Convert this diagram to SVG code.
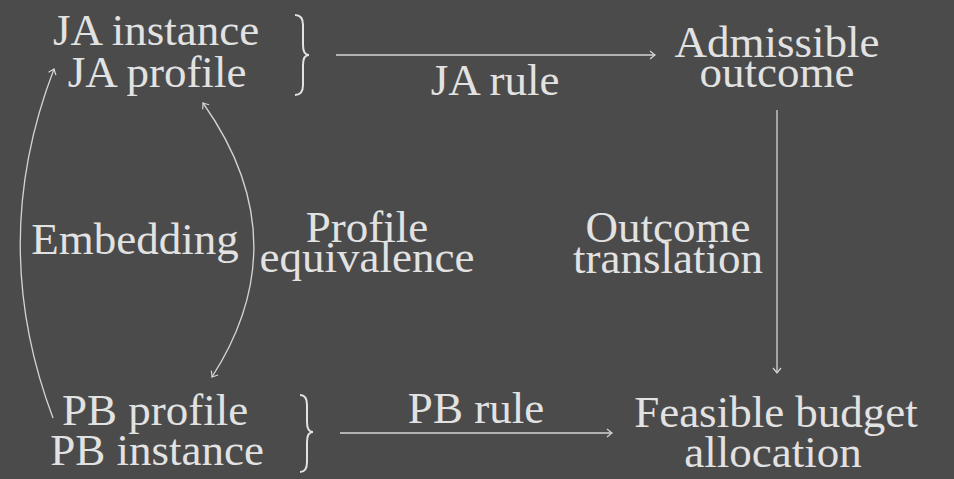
<svg xmlns="http://www.w3.org/2000/svg" width="954" height="479" viewBox="0 0 954 479">
<style>
.t{font-size:45px;fill:#e2e2e2;text-anchor:middle}
.c{fill:none;stroke:#d4d4d4;stroke-width:1.3}
.b{fill:none;stroke:#e2e2e2;stroke-width:2}
</style>
<defs>
<marker id="ah" markerUnits="userSpaceOnUse" markerWidth="14" markerHeight="14" viewBox="-8 -7 10 14" refX="0" refY="0" orient="auto-start-reverse">
<path d="M -5 -4 Q -1.5 -1 0 0 Q -1.5 1 -5 4" fill="none" stroke="#d4d4d4" stroke-width="1.2"/>
</marker>
</defs>
<rect width="954" height="479" fill="#4b4b4b"/>
<g font-family="Liberation Serif, DejaVu Serif, serif">
<g id="ja">
<text class="t" x="156" y="45">JA instance</text>
<text class="t" x="157" y="87">JA profile</text>
<path class="b" d="M 295 15 Q 303 15 303 25 L 303 45 Q 303 55 309 55 Q 303 55 303 65 L 303 85 Q 303 95 295 95"/>
</g>
<g id="admissible">
<text class="t" x="777" y="57">Admissible</text>
<text class="t" x="777" y="87">outcome</text>
</g>
<g id="pb">
<text class="t" x="155" y="425">PB profile</text>
<text class="t" x="157" y="465">PB instance</text>
<path class="b" d="M 300 395 Q 307 395 307 405 L 307 422 Q 307 432 313 432 Q 307 432 307 442 L 307 462 Q 307 472 300 472"/>
</g>
<g id="feasible">
<text class="t" x="776" y="427">Feasible budget</text>
<text class="t" x="773" y="467">allocation</text>
</g>
<g id="connectors">
<path class="c" d="M 336 55 L 655 55" marker-end="url(#ah)"/>
<path class="c" d="M 777 110 L 777 373" marker-end="url(#ah)"/>
<path class="c" d="M 340 433 L 612 433" marker-end="url(#ah)"/>
<path class="c" d="M 53 418 Q -13 243 54 69" marker-end="url(#ah)"/>
<path class="c" d="M 203 103 Q 300 240 212 377" marker-start="url(#ah)" marker-end="url(#ah)"/>
<text class="t" x="495" y="95">JA rule</text>
<text class="t" x="668" y="242">Outcome</text>
<text class="t" x="668" y="273">translation</text>
<text class="t" x="476" y="423">PB rule</text>
<text class="t" x="135" y="254">Embedding</text>
<text class="t" x="367" y="242">Profile</text>
<text class="t" x="367" y="272">equivalence</text>
</g>
</g>
</svg>
